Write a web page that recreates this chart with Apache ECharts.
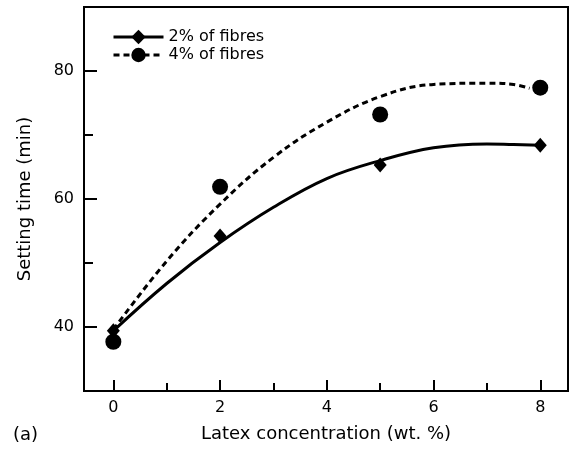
<!DOCTYPE html>
<html>
<head>
<meta charset="utf-8">
<script src="https://cdn.jsdelivr.net/npm/echarts@6/dist/echarts.min.js"></script>
<style>
  html, body { margin: 0; padding: 0; background: #fff; }
  #chart { width: 570px; height: 450px; }
</style>
</head>
<body>
<div id="chart"></div>
<script>
// measured points
const latex = [0, 2, 5, 8];
const fibres2 = [39.4, 54.2, 65.3, 68.4];
const fibres4 = [37.7, 61.9, 73.2, 77.4];

// fitted curves
const fitX2 = [0, 1, 2, 3, 4, 5, 6, 7, 7.5, 8];
const fitY2 = [39.4, 46.8, 53.2, 58.7, 63.2, 66.0, 68.0, 68.6, 68.5, 68.4];
const fitX4 = [0, 1, 2, 3, 4, 5, 6, 7, 7.5, 7.8];
const fitY4 = [39.6, 50.3, 59.2, 66.5, 72.0, 76.0, 77.9, 78.1, 77.9, 77.3];

const xMajor = [0, 2, 4, 6, 8];
const xMinor = [1, 3, 5, 7];
const yMajor = [40, 60, 80];
const yMinor = [50, 70];

const names = ["2% of fibres", "4% of fibres"];

const font = "DejaVu Sans";
const pair = (xs, ys) => xs.map((x, i) => [x, ys[i]]);

const xBase = {
  type: "value",
  min: -0.55,
  max: 8.52,
  position: "bottom",
  splitLine: { show: false }
};
const yBase = {
  type: "value",
  min: 30,
  max: 90,
  position: "left",
  splitLine: { show: false }
};

const option = {
  animation: false,
  backgroundColor: "#fff",
  textStyle: { fontFamily: font, color: "#000" },
  grid: {
    left: 84,
    right: 2,
    top: 7,
    bottom: 59,
    show: true,
    borderColor: "#000",
    borderWidth: 2
  },
  legend: {
    orient: "vertical",
    left: 107,
    top: 24,
    itemWidth: 50,
    itemHeight: 18,
    itemGap: 2,
    lineStyle: { width: 3 },
    textStyle: { fontFamily: font, fontSize: 16, color: "#000" },
    data: names
  },
  xAxis: [
    Object.assign({}, xBase, {
      name: "Latex concentration (wt. %)",
      nameLocation: "middle",
      nameGap: 34,
      nameTextStyle: { fontFamily: font, fontSize: 18, color: "#000" },
      axisLine: { onZero: false, lineStyle: { color: "#000", width: 2 } },
      axisTick: { inside: true, length: 11, customValues: xMajor, lineStyle: { color: "#000", width: 2 } },
      axisLabel: { customValues: xMajor, margin: 9, fontFamily: font, fontSize: 16, color: "#000" }
    }),
    Object.assign({}, xBase, {
      axisLine: { show: false, onZero: false },
      axisTick: { inside: true, length: 8, customValues: xMinor, lineStyle: { color: "#000", width: 2 } },
      axisLabel: { show: false }
    })
  ],
  yAxis: [
    Object.assign({}, yBase, {
      name: "Setting time (min)",
      nameLocation: "middle",
      nameGap: 50,
      nameTextStyle: { fontFamily: font, fontSize: 18, color: "#000" },
      axisLine: { onZero: false, lineStyle: { color: "#000", width: 2 } },
      axisTick: { inside: true, length: 13, customValues: yMajor, lineStyle: { color: "#000", width: 2 } },
      axisLabel: { customValues: yMajor, margin: 10, fontFamily: font, fontSize: 16, color: "#000" }
    }),
    Object.assign({}, yBase, {
      axisLine: { show: false, onZero: false },
      axisTick: { inside: true, length: 9, customValues: yMinor, lineStyle: { color: "#000", width: 2 } },
      axisLabel: { show: false }
    })
  ],
  graphic: [
    {
      type: "text",
      left: 13,
      top: 426,
      style: { text: "(a)", fontFamily: font, fontSize: 18, fill: "#000" }
    }
  ],
  series: [
    {
      name: names[0],
      type: "line",
      smooth: 0.4,
      symbol: "diamond",
      showSymbol: false,
      itemStyle: { color: "#000" },
      lineStyle: { color: "#000", width: 3 },
      data: pair(fitX2, fitY2)
    },
    {
      name: names[1],
      type: "line",
      smooth: 0.4,
      symbol: "circle",
      showSymbol: false,
      itemStyle: { color: "#000" },
      lineStyle: { color: "#000", width: 3, type: [6, 4] },
      data: pair(fitX4, fitY4)
    },
    {
      name: names[0],
      type: "scatter",
      symbol: "diamond",
      symbolSize: [13, 15],
      itemStyle: { color: "#000", opacity: 1 },
      z: 5,
      data: pair(latex, fibres2)
    },
    {
      name: names[1],
      type: "scatter",
      symbol: "circle",
      symbolSize: 16,
      itemStyle: { color: "#000", opacity: 1 },
      z: 5,
      data: pair(latex, fibres4)
    }
  ]
};

const chart = echarts.init(document.getElementById("chart"));
chart.setOption(option);
</script>
</body>
</html>
